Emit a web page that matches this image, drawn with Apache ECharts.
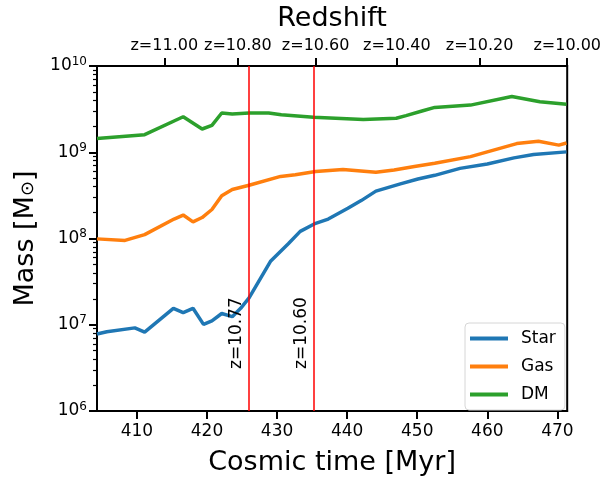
<!DOCTYPE html>
<html>
<head>
<meta charset="utf-8">
<script src="https://cdn.jsdelivr.net/npm/echarts@6/dist/echarts.min.js"></script>
<style>
html, body { margin: 0; padding: 0; background: #fff; }
#chart { width: 604px; height: 481px; }
</style>
</head>
<body>
<div id="chart"></div>
<script>
// cosmic time [Myr] and masses [Msun]
var starTime = [404.3, 405.7, 409.7, 411.1, 415.2, 416.6, 418.0, 419.5, 420.7, 422.1, 423.6, 424.8, 426.0, 429.1, 431.6, 433.3, 435.5, 437.3, 440.1, 442.0, 444.1, 447.6, 450.1, 452.5, 456.1, 460.0, 463.8, 466.6, 471.3];
var starMass = [7.8e6, 8.3e6, 9.2e6, 8.2e6, 1.55e7, 1.38e7, 1.55e7, 1.01e7, 1.11e7, 1.35e7, 1.24e7, 1.55e7, 2.05e7, 5.5e7, 8.7e7, 1.21e8, 1.5e8, 1.68e8, 2.24e8, 2.75e8, 3.54e8, 4.3e8, 4.9e8, 5.4e8, 6.5e8, 7.3e8, 8.6e8, 9.4e8, 1.01e9];

var gasTime = [404.3, 408.3, 411.1, 415.3, 416.6, 418.0, 419.3, 420.7, 422.1, 423.6, 426.0, 430.5, 432.6, 435.5, 439.4, 444.1, 446.7, 449.6, 452.5, 457.6, 460.0, 464.2, 467.3, 470.2, 471.3];
var gasMass = [9.9e7, 9.5e7, 1.11e8, 1.68e8, 1.87e8, 1.56e8, 1.75e8, 2.17e8, 3.14e8, 3.7e8, 4.14e8, 5.25e8, 5.48e8, 5.98e8, 6.31e8, 5.88e8, 6.22e8, 6.82e8, 7.45e8, 8.9e8, 1.01e9, 1.26e9, 1.34e9, 1.21e9, 1.28e9];

var dmTime = [404.3, 411.1, 416.6, 419.3, 420.7, 422.1, 423.6, 426.0, 428.8, 430.6, 435.2, 442.3, 447.0, 448.4, 450.8, 452.5, 457.6, 463.5, 467.5, 471.3];
var dmMass = [1.44e9, 1.6e9, 2.58e9, 1.86e9, 2.05e9, 2.85e9, 2.78e9, 2.85e9, 2.85e9, 2.72e9, 2.55e9, 2.4e9, 2.48e9, 2.66e9, 3.03e9, 3.31e9, 3.52e9, 4.42e9, 3.85e9, 3.61e9];

var timeTicks = [410, 420, 430, 440, 450, 460, 470];
var redshiftTimes = [413.9, 424.4, 435.5, 447.1, 458.9, 471.4];
var redshiftLabels = ['z=11.00', 'z=10.80', 'z=10.60', 'z=10.40', 'z=10.20', 'z=10.00'];
var markerTimes = [426.0, 435.3];
var markerLabels = ['z=10.77', 'z=10.60'];
var minorMass = [];
for (var e = 6; e < 10; e++) {
  for (var m = 2; m < 10; m++) minorMass.push(m * Math.pow(10, e));
}

var FONT = 'DejaVu Sans';
var xMin = 404.3, xMax = 471.4;

function pairs(t, v) {
  return t.map(function (x, i) { return [x, v[i]]; });
}

var chart = echarts.init(document.getElementById('chart'), null, {renderer: 'canvas'});

var options = {
  animation: false,
  textStyle: {fontFamily: FONT, color: '#000'},
  grid: {left: 97, right: 33, top: 63, bottom: 68, show: true, borderColor: '#000', borderWidth: 2, backgroundColor: 'transparent'},
  legend: {
    orient: 'vertical', left: 465, top: 323,
    padding: [7, 9, 7, 5], itemWidth: 38, itemHeight: 4, itemGap: 11,
    icon: 'rect',
    borderColor: '#d6d6d6', borderWidth: 1, borderRadius: 4,
    backgroundColor: 'rgba(255,255,255,0.8)',
    textStyle: {fontFamily: FONT, fontSize: 17, color: '#000', padding: [0, 0, 0, 8], lineHeight: 14},
    data: ['Star', 'Gas', 'DM']
  },
  xAxis: [
    {
      type: 'value', min: xMin, max: xMax, position: 'bottom',
      name: 'Cosmic time [Myr]', nameLocation: 'middle', nameGap: 38,
      nameTextStyle: {fontFamily: FONT, fontSize: 27, color: '#000'},
      axisLine: {show: true, lineStyle: {color: '#000', width: 2}},
      axisTick: {show: true, length: 8, lineStyle: {color: '#000', width: 2}, customValues: timeTicks},
      axisLabel: {fontFamily: FONT, fontSize: 17, color: '#000', margin: 12, customValues: timeTicks},
      splitLine: {show: false}
    },
    {
      type: 'value', min: xMin, max: xMax, position: 'top',
      name: 'Redshift', nameLocation: 'middle', nameGap: 34,
      nameTextStyle: {fontFamily: FONT, fontSize: 27, color: '#000'},
      axisLine: {show: true, lineStyle: {color: '#000', width: 2}},
      axisTick: {show: true, length: 8, lineStyle: {color: '#000', width: 2}, customValues: redshiftTimes},
      axisLabel: {
        fontFamily: FONT, fontSize: 16, color: '#000', margin: 12, customValues: redshiftTimes,
        formatter: function (v) {
          var best = 0;
          for (var i = 1; i < redshiftTimes.length; i++) {
            if (Math.abs(redshiftTimes[i] - v) < Math.abs(redshiftTimes[best] - v)) best = i;
          }
          return redshiftLabels[best];
        }
      },
      splitLine: {show: false}
    }
  ],
  yAxis: [
    {
      type: 'log', logBase: 10, min: 1e6, max: 1e10, position: 'left',
      name: '{n|Mass [M}{s|⊙}{n|]}', nameLocation: 'middle', nameGap: 50,
      nameTextStyle: {
        fontFamily: FONT, color: '#000',
        rich: {
          n: {fontFamily: FONT, fontSize: 27, color: '#000', padding: [0, 0, 6, 0]},
          s: {fontFamily: FONT, fontSize: 18, color: '#000'}
        }
      },
      axisLine: {show: true, lineStyle: {color: '#000', width: 2}},
      axisTick: {show: true, length: 8, lineStyle: {color: '#000', width: 2}},
      axisLabel: {
        margin: 10,
        formatter: function (v) {
          return '{b|10}{s|' + Math.round(Math.log10(v)) + '}';
        },
        rich: {
          b: {fontFamily: FONT, fontSize: 17, color: '#000'},
          s: {fontFamily: FONT, fontSize: 12, color: '#000', padding: [0, 0, 9, 0]}
        }
      },
      splitLine: {show: false}
    },
    {
      type: 'log', logBase: 10, min: 1e6, max: 1e10, position: 'left',
      axisLine: {show: false},
      axisTick: {show: true, length: 4, lineStyle: {color: '#000', width: 1.2}, customValues: minorMass},
      axisLabel: {show: false},
      splitLine: {show: false}
    }
  ],
  series: [
    {
      name: 'Star', type: 'line', data: pairs(starTime, starMass),
      symbol: 'none', lineStyle: {width: 3.5, color: '#1f77b4'}, itemStyle: {color: '#1f77b4'},
      z: 3,
      markLine: {
        silent: true, symbol: ['none', 'none'],
        lineStyle: {color: '#ff0000', width: 1.5, type: 'solid'},
        label: {
          show: true, position: 'insideStartTop', distance: [42, 4],
          formatter: '{b}', fontFamily: FONT, fontSize: 17, color: '#000'
        },
        data: markerTimes.map(function (t, i) { return {xAxis: t, name: markerLabels[i]}; })
      }
    },
    {
      name: 'Gas', type: 'line', data: pairs(gasTime, gasMass),
      symbol: 'none', lineStyle: {width: 3.5, color: '#ff7f0e'}, itemStyle: {color: '#ff7f0e'}, z: 3
    },
    {
      name: 'DM', type: 'line', data: pairs(dmTime, dmMass),
      symbol: 'none', lineStyle: {width: 3.5, color: '#2ca02c'}, itemStyle: {color: '#2ca02c'}, z: 3
    }
  ]
};

chart.setOption(options);
</script>
</body>
</html>
